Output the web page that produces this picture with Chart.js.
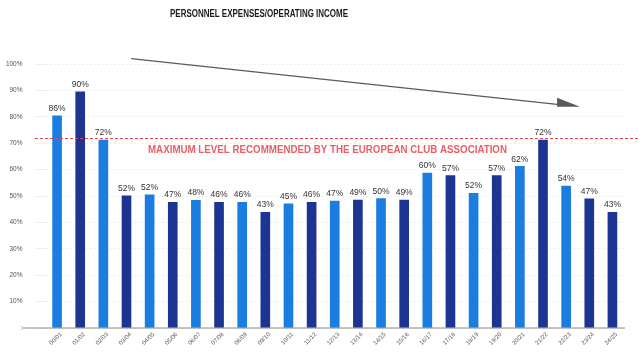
<!DOCTYPE html>
<html>
<head>
<meta charset="utf-8">
<script src="https://cdn.jsdelivr.net/npm/chart.js@4/dist/chart.umd.min.js"></script>
<style>
html,body{margin:0;padding:0;background:#fff;}
#wrap{width:640px;height:357px;position:relative;}
</style>
</head>
<body>
<div id="wrap"><canvas id="c" width="640" height="357"></canvas></div>
<script>
const categories = ['00/01','01/02','02/03','03/04','04/05','05/06','06/07','07/08','08/09','09/10','10/11','11/12','12/13','13/14','14/15','15/16','16/17','17/18','18/19','19/20','20/21','21/22','22/23','23/24','24/25'];
const barValues = [80.4, 89.5, 71.2, 50.1, 50.4, 47.6, 48.4, 47.6, 47.6, 43.8, 47.0, 47.6, 48.1, 48.5, 49.0, 48.5, 58.7, 57.7, 51.0, 57.7, 61.2, 71.2, 53.8, 48.9, 43.8];
const valueLabels = ['86%','90%','72%','52%','52%','47%','48%','46%','46%','43%','45%','46%','47%','49%','50%','49%','60%','57%','52%','57%','62%','72%','54%','47%','43%'];
const barShades = ['L','D','L','D','L','D','L','D','L','D','L','D','L','D','L','D','L','D','L','D','L','D','L','D','D'];
const yTickLabels = {0:':',10:'10%',20:'20%',30:'30%',40:'40%',50:'50%',60:'60%',70:'70%',80:'80%',90:'90%',100:'100%'};
const thresholdValue = 72;
const thresholdText = 'MAXIMUM LEVEL RECOMMENDED BY THE EUROPEAN CLUB ASSOCIATION';
const titleText = 'PERSONNEL EXPENSES/OPERATING INCOME';
const trendArrow = {from:[3.2, 102], to:[22.6, 83.8]};

const LIGHT = '#1b7de0', DARK = '#1d3592';

const overlay = {
  id:'overlay',
  afterDraw(chart){
    const ctx = chart.ctx, xs = chart.scales.x, ys = chart.scales.y, area = chart.chartArea;
    ctx.save();
    // baseline
    ctx.strokeStyle = '#8a8a8a'; ctx.lineWidth = 1.2;
    const y0 = ys.getPixelForValue(0);
    ctx.beginPath(); ctx.moveTo(22, y0); ctx.lineTo(area.right+1, y0); ctx.stroke();
    // threshold line
    const yt = ys.getPixelForValue(thresholdValue);
    ctx.strokeStyle = '#e2474f'; ctx.lineWidth = 1; ctx.setLineDash([3,2]);
    ctx.beginPath(); ctx.moveTo(35, Math.round(yt)+0.5); ctx.lineTo(640, Math.round(yt)+0.5); ctx.stroke();
    ctx.setLineDash([]);
    // threshold text
    ctx.font = 'bold 10.5px "Liberation Sans", Arial, sans-serif';
    ctx.fillStyle = '#ea5d63'; ctx.textBaseline = 'alphabetic'; ctx.textAlign = 'left';
    let w = ctx.measureText(thresholdText).width;
    ctx.save(); ctx.translate(148, yt + 15); ctx.scale(359 / w, 1); ctx.fillText(thresholdText, 0, 0); ctx.restore();
    // value labels
    const meta = chart.getDatasetMeta(0);
    ctx.font = '8.5px "Liberation Sans", Arial, sans-serif';
    ctx.fillStyle = '#333'; ctx.textAlign = 'center'; ctx.textBaseline = 'bottom';
    meta.data.forEach((bar, i) => { ctx.fillText(valueLabels[i], bar.x, bar.y - 3); });
    // title
    ctx.font = 'bold 10px "Liberation Sans", Arial, sans-serif';
    ctx.fillStyle = '#1a1a1a'; ctx.textAlign = 'left'; ctx.textBaseline = 'alphabetic';
    w = ctx.measureText(titleText).width;
    ctx.save(); ctx.translate(170, 16.7); ctx.scale(178 / w, 1); ctx.fillText(titleText, 0, 0); ctx.restore();
    // trend arrow
    const x1 = xs.getPixelForValue(trendArrow.from[0]), y1 = ys.getPixelForValue(trendArrow.from[1]);
    const x2 = xs.getPixelForValue(trendArrow.to[0]), y2 = ys.getPixelForValue(trendArrow.to[1]);
    const ang = Math.atan2(y2 - y1, x2 - x1);
    ctx.strokeStyle = '#5a5a5a'; ctx.fillStyle = '#5a5a5a'; ctx.lineWidth = 1.2;
    const hl = 23;
    ctx.beginPath(); ctx.moveTo(x1, y1); ctx.lineTo(x2 - hl*Math.cos(ang), y2 - hl*Math.sin(ang)); ctx.stroke();
    ctx.beginPath();
    ctx.moveTo(x2, y2);
    ctx.lineTo(x2 - hl, y2);
    ctx.lineTo(x2 - hl, y2 - 9);
    ctx.closePath(); ctx.fill();
    ctx.restore();
  }
};

new Chart(document.getElementById('c'), {
  type:'bar',
  data:{
    labels: categories,
    datasets:[{
      data: barValues,
      backgroundColor: barShades.map(s => s === 'L' ? LIGHT : DARK),
      barThickness: 9
    }]
  },
  options:{
    responsive:false,
    animation:false,
    layout:{padding:{top:64, right:16, left:0, bottom:0}},
    plugins:{legend:{display:false}, tooltip:{enabled:false}, title:{display:false}},
    scales:{
      x:{
        grid:{display:false, drawTicks:false},
        border:{display:false},
        ticks:{minRotation:45, maxRotation:45, color:'#555', padding:3, labelOffset:4, font:{size:6, family:'"Liberation Sans", Arial, sans-serif'}},
        afterFit(s){ s.height = 29; }
      },
      y:{
        min:0, max:100,
        grid:{color:'#efefef', tickLength:10, tickColor:'#efefef', lineWidth:1},
        border:{display:false, dash:[2,2]},
        ticks:{stepSize:10, padding:13, color:'#555', font:{size:6.5, family:'"Liberation Sans", Arial, sans-serif'},
          callback:v => yTickLabels[v] !== undefined ? yTickLabels[v] : ''},
        afterFit(s){ s.width = 45.5; }
      }
    }
  },
  plugins:[overlay]
});
</script>
</body>
</html>
